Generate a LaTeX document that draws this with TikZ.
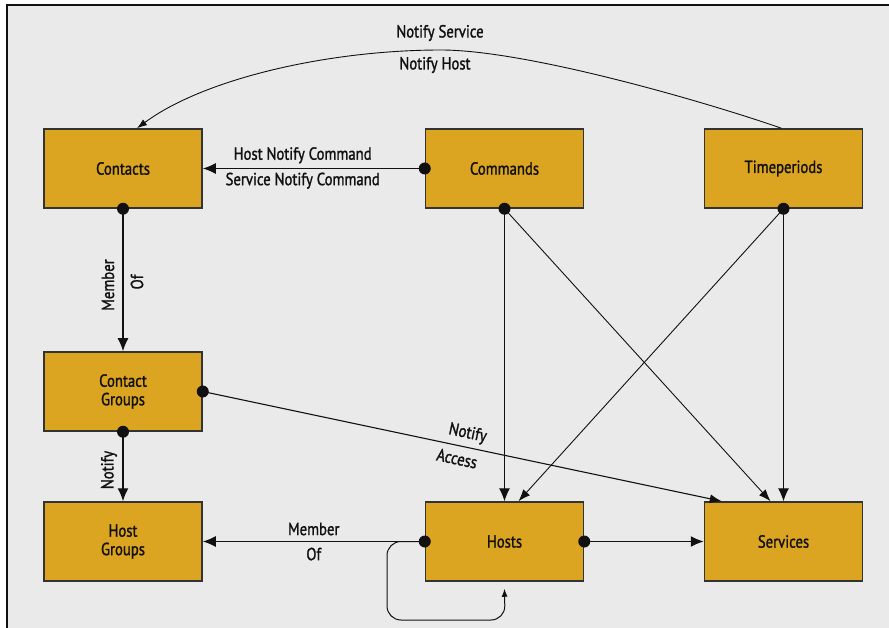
\documentclass[tikz,border=0pt]{standalone}
\usepackage{fontspec}
\setmainfont{PT Sans}[FakeStretch=0.84, FakeBold=1.4]
\usetikzlibrary{arrows.meta,calc}
\definecolor{panel}{HTML}{EAEAEA}
\definecolor{boxfill}{HTML}{DCA521}
\definecolor{boxline}{HTML}{333333}
\definecolor{ink}{HTML}{111111}

\begin{document}
\begin{tikzpicture}[x=1pt,y=-1pt,
  entity/.style={draw=boxline, line width=1.5pt, fill=boxfill,
    minimum width=158pt, minimum height=79pt, inner sep=0pt,
    align=center, font=\fontsize{17.5}{18.5}\selectfont, text=ink},
  lbl/.style={font=\fontsize{17.5}{19}\selectfont, text=ink, inner sep=0.5pt},
  link/.style={draw=ink, line width=1.4pt, -{Latex[length=13pt,width=11pt]}},
  diag/.style={draw=ink, line width=0.9pt, -{Latex[length=12pt,width=9pt]}},
  port/.style={circle, fill=ink, inner sep=0pt, minimum size=12pt}
]
% page and panel
\useasboundingbox (0,0) rectangle (889,628);
\fill[white] (0,0) rectangle (889,628);
\fill[panel] (7,5) rectangle (889,628);
\draw[line width=2pt, draw=ink] (7,628) -- (7,5) -- (889,5);

% object types
\node[entity] (contacts)    at (123,168.5)   {Contacts};
\node[entity] (commands)    at (504.5,168.5) {Commands};
\node[entity] (timeperiods) at (783.5,168.5) {Timeperiods};
\node[entity] (cgroups)     at (123,391.5)   {Contact\\Groups};
\node[entity] (hgroups)     at (123,541.5)   {Host\\Groups};
\node[entity] (hosts)       at (504.5,541.5) {Hosts};
\node[entity] (services)    at (783.5,541.5) {Services};

% notification curve over the top
\coordinate (tpTop) at ($(timeperiods.north)+(-2,0)$);
\coordinate (ctTop) at ($(contacts.north)+(14,0)$);
\coordinate (arcPeak) at (441,50);
\draw[draw=ink, line width=0.9pt, -{Latex[length=10pt,width=7pt]}]
  (tpTop) .. controls (700,100) and (525,50) .. (arcPeak)
          .. controls (330,50) and (205,78) .. (ctTop);
\node[lbl] (lNotifySvc)  at (440,33) {Notify Service};
\node[lbl] (lNotifyHost) at (435,65) {Notify Host};

% commands to contacts
\draw[link] (commands.west) --
  node[lbl, pos=0.55, above=4pt] (lHostCmd) {Host Notify Command}
  node[lbl, pos=0.55, below=3pt] (lSvcCmd) {Service Notify Command}
  (contacts.east);

% contacts to contact groups
\draw[link] (contacts.south) -- (cgroups.north);
\node[lbl, rotate=90] (lMember1) at (108,285) {Member};
\node[lbl, rotate=90] (lOf1)     at (137,282) {Of};

% contact groups to host groups
\draw[link] (cgroups.south) -- (hgroups.north);
\node[lbl, rotate=90] (lNotify1) at (109,470) {Notify};

% contact groups to services
\coordinate (svcA) at ($(services.north west)+(18,0)$);
\draw[diag, line width=1.1pt] (cgroups.east) --
  node[lbl, pos=0.505, sloped, above=5pt, inner sep=0pt] (lNotify2) {Notify}
  node[lbl, pos=0.495, sloped, below=6pt, inner sep=0pt] (lAccess) {Access}
  (svcA);

% commands and timeperiods to hosts and services
\coordinate (hostB) at ($(hosts.north)+(14,0)$);
\coordinate (svcB)  at ($(services.north)+(-13,0)$);
\draw[link, line width=1pt] (commands.south) -- (hosts.north);
\draw[diag] (commands.south) -- (svcB);
\draw[diag] (timeperiods.south) -- (hostB);
\draw[link, line width=1pt] (timeperiods.south) -- (services.north);

% hosts to host groups and services
\draw[link] (hosts.west) --
  node[lbl, above=5pt] (lMember2) {Member}
  node[lbl, below=5pt] (lOf2) {Of}
  (hgroups.east);
\draw[link] (hosts.east) -- (services.west);

% parent host loop
\coordinate (loopA) at (387,541.5);
\coordinate (loopB) at (387,620);
\coordinate (loopC) at (505,620);
\coordinate (loopEnd) at ($(hosts.south)+(0,7)$);
\draw[draw=ink, line width=1pt, rounded corners=14pt, -{Latex[length=8pt,width=6pt]}]
  (hosts.west) -- (loopA) -- (loopB) -- (loopC) -- (loopEnd);

% connection points
\node[port] (pCommands) at (commands.west) {};
\node[port] (pContacts) at (contacts.south) {};
\node[port] (pCgS)      at (cgroups.south) {};
\node[port] (pCgE)      at (cgroups.east) {};
\node[port] (pCmdS)     at (commands.south) {};
\node[port] (pTpS)      at (timeperiods.south) {};
\node[port] (pHostW)    at (hosts.west) {};
\node[port] (pHostE)    at (hosts.east) {};
\end{tikzpicture}
\end{document}
